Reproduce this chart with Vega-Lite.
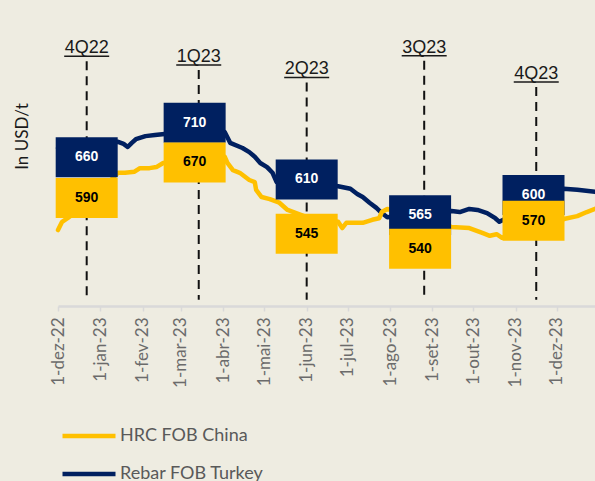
{
  "$schema": "https://vega.github.io/schema/vega-lite/v6.json",
  "width": 537,
  "height": 284,
  "autosize": {"type": "none"},
  "padding": {"left": 58, "top": 22, "right": 0, "bottom": 175},
  "background": "#EEECE1",
  "config": {"view": {"stroke": null}, "font": "Lato"},
  "datasets": {
    "prices": [
      {"series": "Rebar FOB Turkey", "date": "2022-12-01", "price": 686},
      {"series": "Rebar FOB Turkey", "date": "2022-12-25", "price": 690},
      {"series": "Rebar FOB Turkey", "date": "2023-01-14", "price": 698},
      {"series": "Rebar FOB Turkey", "date": "2023-01-18", "price": 694},
      {"series": "Rebar FOB Turkey", "date": "2023-01-21", "price": 688},
      {"series": "Rebar FOB Turkey", "date": "2023-01-24", "price": 696},
      {"series": "Rebar FOB Turkey", "date": "2023-01-27", "price": 703},
      {"series": "Rebar FOB Turkey", "date": "2023-02-03", "price": 709},
      {"series": "Rebar FOB Turkey", "date": "2023-02-10", "price": 711},
      {"series": "Rebar FOB Turkey", "date": "2023-02-17", "price": 713},
      {"series": "Rebar FOB Turkey", "date": "2023-03-11", "price": 719},
      {"series": "Rebar FOB Turkey", "date": "2023-04-02", "price": 717},
      {"series": "Rebar FOB Turkey", "date": "2023-04-06", "price": 696},
      {"series": "Rebar FOB Turkey", "date": "2023-04-15", "price": 686},
      {"series": "Rebar FOB Turkey", "date": "2023-04-20", "price": 678},
      {"series": "Rebar FOB Turkey", "date": "2023-04-24", "price": 669},
      {"series": "Rebar FOB Turkey", "date": "2023-04-28", "price": 657},
      {"series": "Rebar FOB Turkey", "date": "2023-05-03", "price": 649},
      {"series": "Rebar FOB Turkey", "date": "2023-05-07", "price": 638},
      {"series": "Rebar FOB Turkey", "date": "2023-05-10", "price": 620},
      {"series": "Rebar FOB Turkey", "date": "2023-06-01", "price": 618},
      {"series": "Rebar FOB Turkey", "date": "2023-06-24", "price": 612},
      {"series": "Rebar FOB Turkey", "date": "2023-07-03", "price": 607},
      {"series": "Rebar FOB Turkey", "date": "2023-07-08", "price": 597},
      {"series": "Rebar FOB Turkey", "date": "2023-07-12", "price": 591},
      {"series": "Rebar FOB Turkey", "date": "2023-07-17", "price": 580},
      {"series": "Rebar FOB Turkey", "date": "2023-07-22", "price": 570},
      {"series": "Rebar FOB Turkey", "date": "2023-07-26", "price": 560},
      {"series": "Rebar FOB Turkey", "date": "2023-07-30", "price": 552},
      {"series": "Rebar FOB Turkey", "date": "2023-08-23", "price": 558},
      {"series": "Rebar FOB Turkey", "date": "2023-09-15", "price": 564},
      {"series": "Rebar FOB Turkey", "date": "2023-09-21", "price": 562},
      {"series": "Rebar FOB Turkey", "date": "2023-09-28", "price": 568},
      {"series": "Rebar FOB Turkey", "date": "2023-10-04", "price": 566},
      {"series": "Rebar FOB Turkey", "date": "2023-10-11", "price": 560},
      {"series": "Rebar FOB Turkey", "date": "2023-10-17", "price": 550},
      {"series": "Rebar FOB Turkey", "date": "2023-10-20", "price": 543},
      {"series": "Rebar FOB Turkey", "date": "2023-11-14", "price": 576},
      {"series": "Rebar FOB Turkey", "date": "2023-12-06", "price": 607},
      {"series": "Rebar FOB Turkey", "date": "2023-12-16", "price": 605},
      {"series": "Rebar FOB Turkey", "date": "2023-12-29", "price": 601},
      {"series": "HRC FOB China", "date": "2022-12-01", "price": 527},
      {"series": "HRC FOB China", "date": "2022-12-04", "price": 543},
      {"series": "HRC FOB China", "date": "2022-12-08", "price": 550},
      {"series": "HRC FOB China", "date": "2022-12-25", "price": 585},
      {"series": "HRC FOB China", "date": "2023-01-14", "price": 638},
      {"series": "HRC FOB China", "date": "2023-01-19", "price": 638},
      {"series": "HRC FOB China", "date": "2023-01-26", "price": 640},
      {"series": "HRC FOB China", "date": "2023-01-30", "price": 647},
      {"series": "HRC FOB China", "date": "2023-02-06", "price": 647},
      {"series": "HRC FOB China", "date": "2023-02-11", "price": 649},
      {"series": "HRC FOB China", "date": "2023-02-16", "price": 657},
      {"series": "HRC FOB China", "date": "2023-03-11", "price": 663},
      {"series": "HRC FOB China", "date": "2023-04-02", "price": 669},
      {"series": "HRC FOB China", "date": "2023-04-04", "price": 657},
      {"series": "HRC FOB China", "date": "2023-04-08", "price": 643},
      {"series": "HRC FOB China", "date": "2023-04-13", "price": 638},
      {"series": "HRC FOB China", "date": "2023-04-20", "price": 624},
      {"series": "HRC FOB China", "date": "2023-04-24", "price": 620},
      {"series": "HRC FOB China", "date": "2023-04-25", "price": 605},
      {"series": "HRC FOB China", "date": "2023-04-29", "price": 591},
      {"series": "HRC FOB China", "date": "2023-05-05", "price": 587},
      {"series": "HRC FOB China", "date": "2023-05-12", "price": 580},
      {"series": "HRC FOB China", "date": "2023-05-18", "price": 566},
      {"series": "HRC FOB China", "date": "2023-06-03", "price": 550},
      {"series": "HRC FOB China", "date": "2023-06-24", "price": 543},
      {"series": "HRC FOB China", "date": "2023-06-27", "price": 531},
      {"series": "HRC FOB China", "date": "2023-06-30", "price": 541},
      {"series": "HRC FOB China", "date": "2023-07-12", "price": 541},
      {"series": "HRC FOB China", "date": "2023-07-19", "price": 547},
      {"series": "HRC FOB China", "date": "2023-07-24", "price": 550},
      {"series": "HRC FOB China", "date": "2023-07-26", "price": 562},
      {"series": "HRC FOB China", "date": "2023-07-30", "price": 568},
      {"series": "HRC FOB China", "date": "2023-08-23", "price": 550},
      {"series": "HRC FOB China", "date": "2023-09-15", "price": 533},
      {"series": "HRC FOB China", "date": "2023-09-28", "price": 531},
      {"series": "HRC FOB China", "date": "2023-10-08", "price": 521},
      {"series": "HRC FOB China", "date": "2023-10-13", "price": 516},
      {"series": "HRC FOB China", "date": "2023-10-18", "price": 519},
      {"series": "HRC FOB China", "date": "2023-10-22", "price": 512},
      {"series": "HRC FOB China", "date": "2023-11-14", "price": 531},
      {"series": "HRC FOB China", "date": "2023-12-07", "price": 549},
      {"series": "HRC FOB China", "date": "2023-12-16", "price": 554},
      {"series": "HRC FOB China", "date": "2023-12-23", "price": 562},
      {"series": "HRC FOB China", "date": "2023-12-29", "price": 568}
    ],
    "quarters": [
      {"quarter": "4Q22", "date": "2022-12-22", "top": 854},
      {"quarter": "1Q23", "date": "2023-03-14", "top": 837},
      {"quarter": "2Q23", "date": "2023-06-01", "top": 813},
      {"quarter": "3Q23", "date": "2023-08-26", "top": 855},
      {"quarter": "4Q23", "date": "2023-11-16", "top": 804}
    ],
    "boxes": [
      {"quarter": "4Q22", "series": "Rebar FOB Turkey", "date": "2022-12-22", "at": 668, "value": 660},
      {"quarter": "1Q23", "series": "Rebar FOB Turkey", "date": "2023-03-11", "at": 735, "value": 710},
      {"quarter": "2Q23", "series": "Rebar FOB Turkey", "date": "2023-06-01", "at": 625, "value": 610},
      {"quarter": "3Q23", "series": "Rebar FOB Turkey", "date": "2023-08-23", "at": 556, "value": 565},
      {"quarter": "4Q23", "series": "Rebar FOB Turkey", "date": "2023-11-14", "at": 595, "value": 600},
      {"quarter": "4Q22", "series": "HRC FOB China", "date": "2022-12-22", "at": 589, "value": 590},
      {"quarter": "1Q23", "series": "HRC FOB China", "date": "2023-03-11", "at": 658, "value": 670},
      {"quarter": "2Q23", "series": "HRC FOB China", "date": "2023-06-01", "at": 520, "value": 545},
      {"quarter": "3Q23", "series": "HRC FOB China", "date": "2023-08-23", "at": 491, "value": 540},
      {"quarter": "4Q23", "series": "HRC FOB China", "date": "2023-11-14", "at": 545, "value": 570}
    ]
  },
  "layer": [
    {
      "data": {"name": "prices"},
      "mark": {"type": "line", "strokeWidth": 4.5, "strokeJoin": "round", "strokeCap": "round"},
      "encoding": {
        "x": {
          "field": "date", "type": "temporal",
          "scale": {"type": "utc", "domain": [{"year": 2022, "month": 12, "date": 1, "utc": true}, {"year": 2023, "month": 12, "date": 29, "utc": true}], "nice": false},
          "axis": {
            "title": null,
            "grid": false,
            "tickCount": {"interval": "month", "step": 1},
            "labelExpr": "utcdate(datum.value) + '-' + ['jan','fev','mar','abr','mai','jun','jul','ago','set','out','nov','dez'][utcmonth(datum.value)] + '-' + utcFormat(datum.value, '%y')",
            "labelAngle": -90,
            "labelFont": "Lato",
            "labelFontSize": 17,
            "labelColor": "#6b6b6b",
            "labelPadding": 6,
            "labelOverlap": false,
            "labelBound": false,
            "labelFlush": false,
            "tickColor": "#D9D9D9",
            "tickWidth": 1.5,
            "tickSize": 5,
            "domainColor": "#D9D9D9",
            "domainWidth": 2.5
          }
        },
        "y": {
          "field": "price", "type": "quantitative",
          "scale": {"domain": [380, 930], "nice": false, "zero": false},
          "axis": {
            "title": "In USD/t",
            "labels": false, "ticks": false, "domain": false, "grid": false,
            "titleFont": "Lato", "titleFontSize": 17, "titleFontWeight": "normal", "titleColor": "#1a1a1a",
            "titleX": -31, "titleY": 114, "titleBaseline": "alphabetic", "titleAngle": -90
          }
        },
        "color": {
          "field": "series", "type": "nominal",
          "scale": {"domain": ["HRC FOB China", "Rebar FOB Turkey"], "range": ["#FFC000", "#002060"]},
          "legend": {
            "title": null, "orient": "none", "legendX": 2, "legendY": 385, "direction": "vertical",
            "symbolType": "stroke", "symbolSize": 2809, "symbolStrokeWidth": 4.5,
            "labelFont": "Lato", "labelFontSize": 18, "labelColor": "#595959", "labelOffset": 2, "rowPadding": -14
          }
        }
      }
    },
    {
      "data": {"name": "quarters"},
      "mark": {"type": "rule", "strokeDash": [9, 6], "strokeWidth": 2, "color": "#111111"},
      "encoding": {
        "x": {"field": "date", "type": "temporal"},
        "y": {"field": "top", "type": "quantitative"},
        "y2": {"datum": 392}
      }
    },
    {
      "data": {"name": "boxes"},
      "mark": {"type": "point", "shape": "M-1,-0.645L1,-0.645L1,0.645L-1,0.645Z", "filled": true, "opacity": 1, "size": 3844, "strokeWidth": 0},
      "encoding": {
        "x": {"field": "date", "type": "temporal"},
        "y": {"field": "at", "type": "quantitative"},
        "fill": {"field": "series", "type": "nominal", "scale": {"domain": ["HRC FOB China", "Rebar FOB Turkey"], "range": ["#FFC000", "#002060"]}, "legend": null}
      }
    },
    {
      "data": {"name": "boxes"},
      "mark": {"type": "text", "font": "Liberation Sans", "fontSize": 14, "fontWeight": "bold", "baseline": "middle", "align": "center"},
      "encoding": {
        "x": {"field": "date", "type": "temporal"},
        "y": {"field": "at", "type": "quantitative"},
        "text": {"field": "value", "type": "quantitative"},
        "color": {"condition": {"test": "datum.series === 'Rebar FOB Turkey'", "value": "#FFFFFF"}, "value": "#000000"}
      }
    },
    {
      "data": {"name": "quarters"},
      "mark": {"type": "text", "font": "Liberation Sans", "fontSize": 18, "baseline": "alphabetic", "align": "center", "dy": -8, "color": "#1a1a1a"},
      "encoding": {
        "x": {"field": "date", "type": "temporal"},
        "y": {"field": "top", "type": "quantitative"},
        "text": {"field": "quarter"}
      }
    },
    {
      "data": {"name": "quarters"},
      "mark": {"type": "tick", "orient": "horizontal", "size": 45, "thickness": 1.5, "yOffset": -5, "color": "#1a1a1a", "opacity": 1},
      "encoding": {
        "x": {"field": "date", "type": "temporal"},
        "y": {"field": "top", "type": "quantitative"}
      }
    }
  ]
}
